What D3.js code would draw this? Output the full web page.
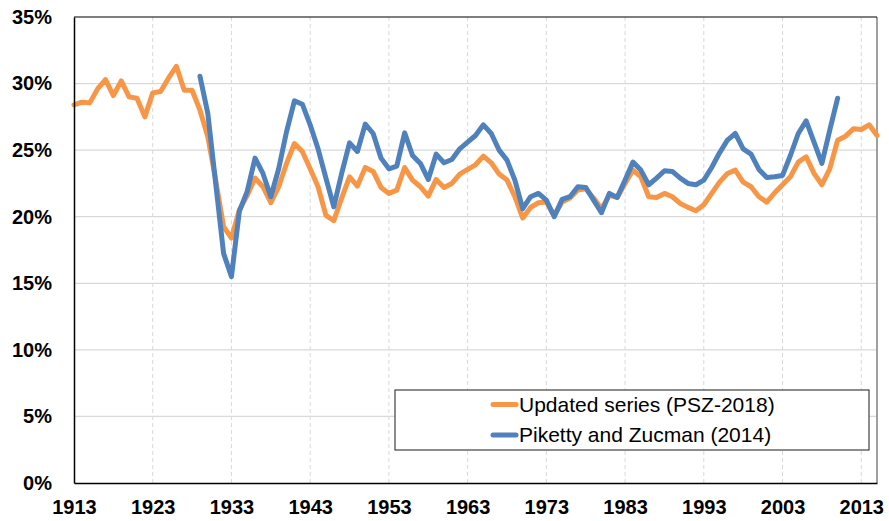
<!DOCTYPE html>
<html>
<head>
<meta charset="utf-8">
<script src="https://cdn.jsdelivr.net/npm/d3@7"></script>
<style>
  html, body { margin: 0; padding: 0; background: #fff; }
  svg { display: block; font-family: "Liberation Sans", Arial, sans-serif; }
</style>
</head>
<body>
<svg id="chart" width="889" height="521"></svg>
<script>
// Updated series (PSZ-2018), 1913–2015, percent
const updatedStart = 1913;
const updatedValues = [
  28.4, 28.6, 28.55, 29.6, 30.3, 29.1, 30.2, 29.0, 28.9, 27.5,
  29.3, 29.4, 30.4, 31.3, 29.5, 29.5, 28.0, 26.0, 22.75, 19.25,
  18.4, 20.5, 21.6, 22.9, 22.25, 21.05, 22.25, 24.0, 25.5, 24.9,
  23.6, 22.25, 20.1, 19.7, 21.4, 23.0, 22.3, 23.7, 23.4, 22.2,
  21.75, 22.0, 23.7, 22.75, 22.25, 21.55, 22.8, 22.2, 22.5, 23.2,
  23.55, 23.9, 24.55, 24.05, 23.2, 22.75, 21.5, 19.9, 20.7, 21.05,
  21.1, 20.1, 21.1, 21.4, 22.0, 22.1, 21.4, 20.6, 21.6, 21.45,
  22.5, 23.5, 23.0, 21.5, 21.45, 21.75, 21.5, 21.0, 20.7, 20.45,
  20.9, 21.75, 22.6, 23.25, 23.5, 22.6, 22.25, 21.5, 21.1, 21.8,
  22.4, 23.0, 24.1, 24.5, 23.25, 22.4, 23.6, 25.75, 26.05, 26.6,
  26.55, 26.9, 26.1
];

// Piketty and Zucman (2014), 1929–2010, percent
const pzStart = 1929;
const pzValues = [
  30.55, 27.75, 22.5, 17.25, 15.5, 20.4, 21.9, 24.4, 23.25, 21.5,
  23.6, 26.4, 28.7, 28.45, 26.9, 25.1, 22.9, 20.75, 23.25, 25.55,
  24.9, 26.95, 26.25, 24.4, 23.6, 23.8, 26.3, 24.6, 24.0, 22.8,
  24.7, 24.05, 24.3, 25.1, 25.6, 26.1, 26.9, 26.25, 25.0, 24.25,
  22.75, 20.6, 21.5, 21.75, 21.25, 20.0, 21.3, 21.5, 22.25, 22.2,
  21.25, 20.3, 21.75, 21.45, 22.75, 24.1, 23.5, 22.4, 22.9, 23.45,
  23.4, 22.9, 22.5, 22.4, 22.75, 23.7, 24.8, 25.75, 26.25, 25.1,
  24.7, 23.55, 22.95, 23.0, 23.1, 24.6, 26.25, 27.2, 25.6, 24.0,
  26.5, 28.9
];

const xTickYears = [1913, 1923, 1933, 1943, 1953, 1963, 1973, 1983, 1993, 2003, 2013];
const yTickValues = [0, 5, 10, 15, 20, 25, 30, 35];
const seriesNames = ["Updated series (PSZ-2018)", "Piketty and Zucman (2014)"];
const seriesColors = ["#F79646", "#4F81BD"];

const toPoints = (start, vals) => vals.map((v, i) => ({ year: start + i, value: v }));
const series = [
  { name: seriesNames[0], color: seriesColors[0], points: toPoints(updatedStart, updatedValues) },
  { name: seriesNames[1], color: seriesColors[1], points: toPoints(pzStart, pzValues) }
];

const svg = d3.select("#chart");
const plot = { left: 74, top: 17, right: 877, bottom: 483 };

const x = d3.scaleLinear().domain([1913, 2015]).range([plot.left, plot.right]);
const y = d3.scaleLinear().domain([0, 35]).range([plot.bottom, plot.top]);

// horizontal gridlines
svg.append("g")
  .selectAll("line")
  .data(yTickValues.filter(v => v > 0 && v < 35))
  .join("line")
  .attr("x1", plot.left).attr("x2", plot.right)
  .attr("y1", d => y(d)).attr("y2", d => y(d))
  .attr("stroke", "#d9d9d9").attr("stroke-width", 1.2);

// vertical dashed gridlines
svg.append("g")
  .selectAll("line")
  .data(xTickYears.filter(v => v > 1913))
  .join("line")
  .attr("x1", d => x(d)).attr("x2", d => x(d))
  .attr("y1", plot.top).attr("y2", plot.bottom)
  .attr("stroke", "#d9d9d9").attr("stroke-width", 1)
  .attr("stroke-dasharray", "4,3");

// plot frame: right edge in grey, top in black
svg.append("line")
  .attr("x1", plot.right).attr("x2", plot.right)
  .attr("y1", plot.top).attr("y2", plot.bottom)
  .attr("stroke", "#808080").attr("stroke-width", 1.5);
svg.append("line")
  .attr("x1", plot.left).attr("x2", plot.right)
  .attr("y1", plot.top).attr("y2", plot.top)
  .attr("stroke", "#000").attr("stroke-width", 1.2);

// lines
const line = d3.line().x(d => x(d.year)).y(d => y(d.value));
svg.append("g")
  .selectAll("path")
  .data(series)
  .join("path")
  .attr("d", d => line(d.points))
  .attr("fill", "none")
  .attr("stroke", d => d.color)
  .attr("stroke-width", 5)
  .attr("stroke-linejoin", "round")
  .attr("stroke-linecap", "round");

// axes
const yAxis = d3.axisLeft(y).tickValues(yTickValues).tickFormat(d => d + "%").tickSize(0).tickPadding(22);
const gy = svg.append("g").attr("transform", `translate(${plot.left},0)`).call(yAxis);
gy.select(".domain").attr("stroke", "#000").attr("stroke-width", 1.5);
gy.selectAll("text")
  .attr("font-size", 20).attr("font-weight", "bold").attr("fill", "#000")
  .attr("font-family", "Liberation Sans, Arial, sans-serif");

const xAxis = d3.axisBottom(x).tickValues(xTickYears).tickFormat(d3.format("d")).tickSize(0).tickPadding(17);
const gx = svg.append("g").attr("transform", `translate(0,${plot.bottom})`).call(xAxis);
gx.select(".domain").attr("stroke", "#000").attr("stroke-width", 1.5);
gx.selectAll("text")
  .attr("font-size", 20).attr("font-weight", "bold").attr("fill", "#000")
  .attr("font-family", "Liberation Sans, Arial, sans-serif");

// legend
const legend = svg.append("g");
legend.append("rect")
  .attr("x", 395).attr("y", 390).attr("width", 474).attr("height", 60)
  .attr("fill", "#fff").attr("stroke", "#404040").attr("stroke-width", 1.2);
const items = legend.selectAll("g.item")
  .data(series)
  .join("g")
  .attr("class", "item")
  .attr("transform", (d, i) => `translate(0,${404.5 + i * 30.5})`);
items.append("line")
  .attr("x1", 493).attr("x2", 516)
  .attr("stroke", d => d.color).attr("stroke-width", 5)
  .attr("stroke-linecap", "round");
items.append("text")
  .attr("x", 519).attr("dy", "0.35em")
  .attr("font-size", 21).attr("fill", "#000")
  .text(d => d.name);
</script>
</body>
</html>
